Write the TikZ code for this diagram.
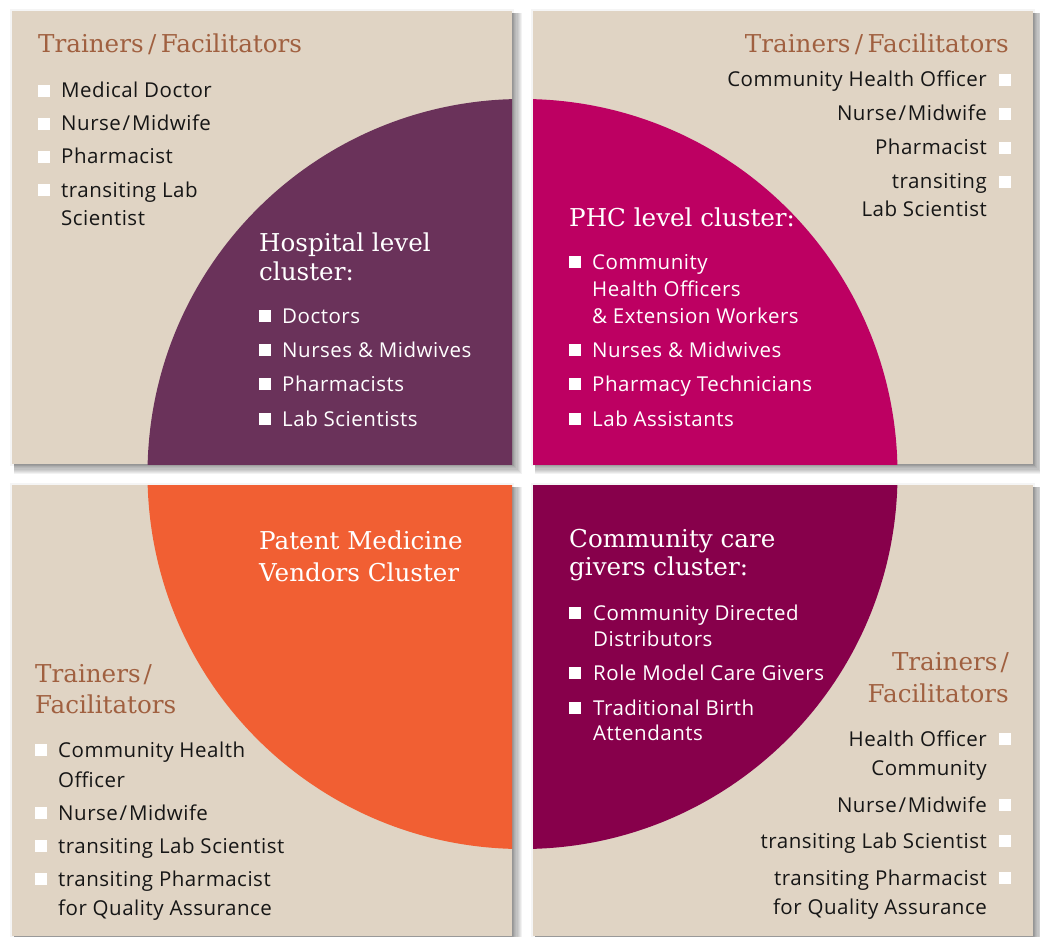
\documentclass[tikz,border=0pt]{standalone}
\usepackage{fontspec}
\setmainfont{Open Sans}
\newfontfamily\bodyfont[LetterSpace=2.5]{Open Sans}
\newfontfamily\headfont{DejaVu Serif}
\definecolor{beige}{HTML}{E0D4C4}
\definecolor{hospc}{HTML}{6A325A}
\definecolor{phcc}{HTML}{BD0062}
\definecolor{pmvc}{HTML}{F15F33}
\definecolor{commc}{HTML}{87004B}
\definecolor{headc}{HTML}{A06040}
\definecolor{textc}{HTML}{161616}
\tikzset{
  body/.style={font=\bodyfont\fontsize{20.5}{24}\selectfont, inner sep=0pt, text=textc},
  wbody/.style={body, text=white},
  head/.style={font=\headfont\fontsize{24.6}{28}\selectfont, inner sep=0pt, text=headc},
  whead/.style={head, text=white},
  sq/.style={fill=white, minimum size=12pt, inner sep=0pt, outer sep=0pt},
  panel/.style={fill=beige}
}
% left bullet: name, square x, text x, baseline, style, text
\newcommand{\lbul}[6]{%
  \node[sq] (#1b) at (#2+6,#4-7) {};
  \node[#5, anchor=base west] (#1) at (#3,#4) {#6};}
% left continuation line
\newcommand{\lline}[5]{%
  \node[#4, anchor=base west] (#1) at (#2,#3) {#5};}
% right bullet: name, baseline, text  (text ends at 987, square 999-1011)
\newcommand{\rbul}[3]{%
  \node[sq] (#1b) at (1005,#2-7) {};
  \node[body, anchor=base east] (#1) at (987,#2) {#3};}
\newcommand{\rline}[3]{%
  \node[body, anchor=base east] (#1) at (987,#2) {#3};}
\newcommand{\shadowbox}[4]{%
  \fill[black, opacity=0.04] (#1-2,#2-2) rectangle (#3+2,#4+2);
  \foreach \i in {1,...,9}{%
    \fill[black, opacity=0.05] (#1+2,#2+2) rectangle (#3+1.1*\i,#4+1.1*\i);}}
\newcommand{\sep}{\kern4.5pt/\kern4.5pt}
\newcommand{\nsep}{\kern1.8pt/\kern1.8pt}
\begin{document}
\begin{tikzpicture}[x=1pt,y=-1pt]
\useasboundingbox (0,0) rectangle (1040,936);
\fill[white] (0,0) rectangle (1040,936);
% shadows
\shadowbox{12}{11}{512}{464}
\shadowbox{533}{11}{1033}{464}
\shadowbox{12}{485}{512}{946}
\shadowbox{533}{485}{1033}{946}
% panels
\fill[panel] (12,11) rectangle (512,464);
\fill[panel] (533,11) rectangle (1033,464);
\fill[panel] (12,485) rectangle (512,936);
\fill[panel] (533,485) rectangle (1033,936);
% circle quadrants
\begin{scope}\clip (12,11) rectangle (512,464); \fill[hospc] (522.5,474) circle[radius=375pt];\end{scope}
\begin{scope}\clip (533,11) rectangle (1033,464); \fill[phcc] (522.5,474) circle[radius=375pt];\end{scope}
\begin{scope}\clip (12,485) rectangle (512,936); \fill[pmvc] (522.5,474) circle[radius=375pt];\end{scope}
\begin{scope}\clip (533,485) rectangle (1033,936); \fill[commc] (522.5,474) circle[radius=375pt];\end{scope}

% ---- top left: trainers
\node[head, anchor=base west] (tlh) at (38,53) {Trainers\sep Facilitators};
\lbul{tla}{38}{61}{98}{body}{Medical Doctor}
\lbul{tlb}{38}{61}{131}{body}{Nurse\nsep Midwife}
\lbul{tlc}{38}{61}{164}{body}{Pharmacist}
\lbul{tld}{38}{61}{197}{body}{transiting Lab}
\lline{tle}{61}{225}{body}{Scientist}
% hospital cluster
\node[whead, anchor=base west] (hosp1) at (259,251) {Hospital level};
\node[whead, anchor=base west] (hosp2) at (259,280) {cluster:};
\lbul{ha}{259}{282}{323}{wbody}{Doctors}
\lbul{hb}{259}{282}{357}{wbody}{Nurses \& Midwives}
\lbul{hc}{259}{282}{391}{wbody}{Pharmacists}
\lbul{hd}{259}{282}{426}{wbody}{Lab Scientists}

% ---- top right: trainers
\node[head, anchor=base east] (trh) at (1009,53) {Trainers\sep Facilitators};
\rbul{tra}{87}{Community Health Officer}
\rbul{trb}{121}{Nurse\nsep Midwife}
\rbul{trc}{155}{Pharmacist}
\rbul{trd}{189}{transiting}
\rline{tre}{216}{Lab Scientist}
% PHC cluster
\node[whead, anchor=base west] (phc) at (569,226) {PHC level cluster:};
\lbul{pa}{569}{592}{269}{wbody}{Community}
\lline{pa2}{592}{296}{wbody}{Health Officers}
\lline{pa3}{592}{323}{wbody}{\& Extension Workers}
\lbul{pb}{569}{592}{357}{wbody}{Nurses \& Midwives}
\lbul{pc}{569}{592}{391}{wbody}{Pharmacy Technicians}
\lbul{pd}{569}{592}{426}{wbody}{Lab Assistants}

% ---- bottom left: PMV cluster
\node[whead, anchor=base west] (pmv1) at (259,549) {Patent Medicine};
\node[whead, anchor=base west] (pmv2) at (259,581) {Vendors Cluster};
\node[head, anchor=base west] (blh1) at (35,682) {Trainers\kern3pt/};
\node[head, anchor=base west] (blh2) at (35,713) {Facilitators};
\lbul{bla}{35}{58}{757}{body}{Community Health}
\lline{bla2}{58}{787}{body}{Officer}
\lbul{blb}{35}{58}{820}{body}{Nurse\nsep Midwife}
\lbul{blc}{35}{58}{853}{body}{transiting Lab Scientist}
\lbul{bld}{35}{58}{886}{body}{transiting Pharmacist}
\lline{bld2}{58}{915}{body}{for Quality Assurance}

% ---- bottom right: community cluster
\node[whead, anchor=base west] (cc1) at (569,547) {Community care};
\node[whead, anchor=base west] (cc2) at (569,575) {givers cluster:};
\lbul{ca}{569}{593}{620}{wbody}{Community Directed}
\lline{ca2}{593}{646}{wbody}{Distributors}
\lbul{cb}{569}{593}{680}{wbody}{Role Model Care Givers}
\lbul{cc}{569}{593}{715}{wbody}{Traditional Birth}
\lline{cc2l}{593}{740}{wbody}{Attendants}
\node[head, anchor=base east] (brh1) at (1009,670) {Trainers\kern3pt/};
\node[head, anchor=base east] (brh2) at (1009,702) {Facilitators};
\rbul{bra}{746}{Health Officer}
\rline{bra2}{775}{Community}
\rbul{brb}{812}{Nurse\nsep Midwife}
\rbul{brc}{848}{transiting Lab Scientist}
\rbul{brd}{885}{transiting Pharmacist}
\rline{brd2}{914}{for Quality Assurance}
\end{tikzpicture}
\end{document}
